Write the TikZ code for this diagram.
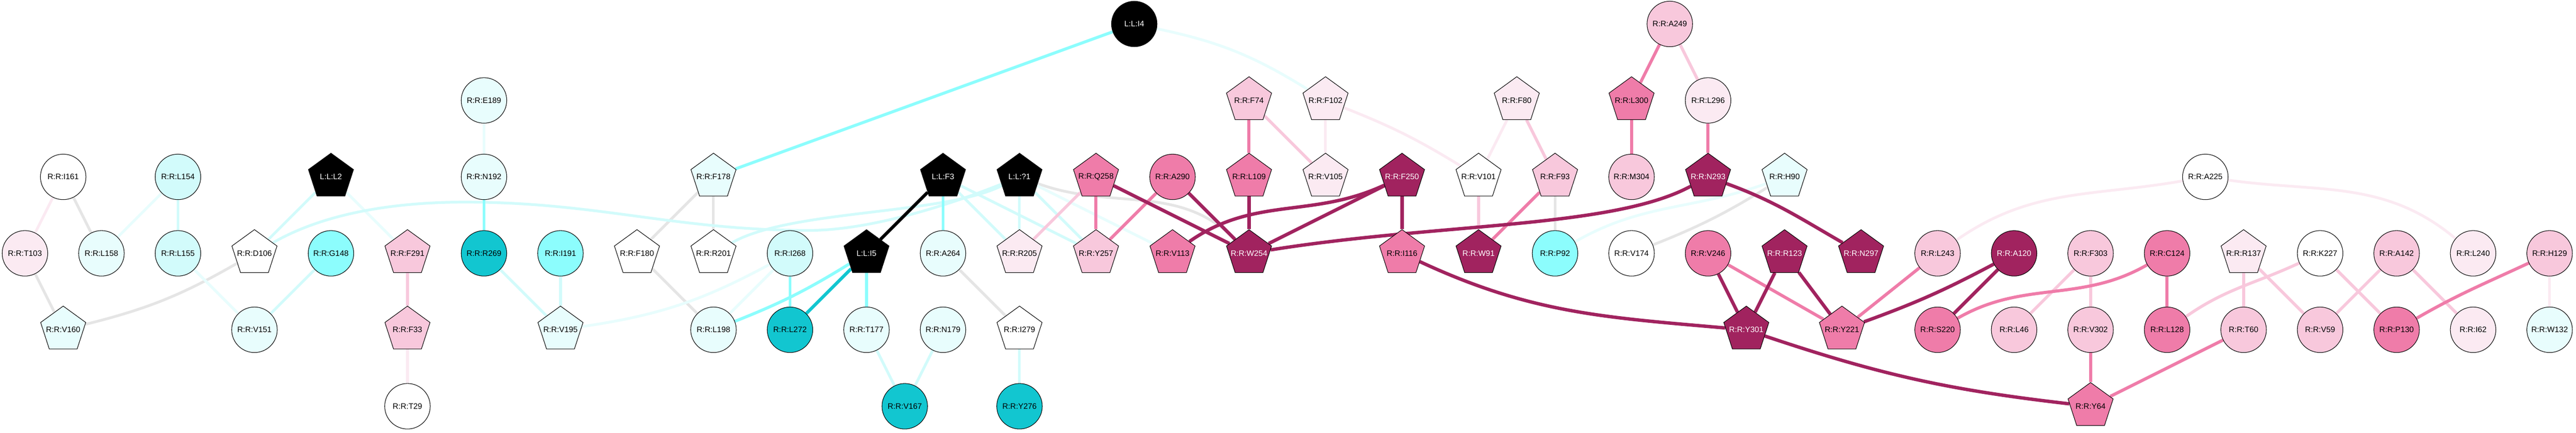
\documentclass[tikz,border=0pt]{standalone}
\usepackage{fontspec}
\setmainfont{Liberation Sans}
\usetikzlibrary{shapes.geometric, backgrounds}

\definecolor{cgrey}{HTML}{E5E5E5}
\definecolor{cvlcyan}{HTML}{E8FDFD}
\definecolor{clcyan}{HTML}{D2FBFB}
\definecolor{ccyan}{HTML}{8CFDFD}
\definecolor{cdcyan}{HTML}{12C6D0}
\definecolor{cvlpink}{HTML}{FBEAF2}
\definecolor{clpink}{HTML}{F8C8DC}
\definecolor{cpink}{HTML}{EF7CA9}
\definecolor{cdmag}{HTML}{A1235F}

% label of zero width, so the pentagon keeps its own size
\newcommand{\ptxt}[1]{\makebox[0pt]{#1}}

\begin{document}
\begin{tikzpicture}[
  res/.style={circle, draw=black, line width=0.4pt, minimum size=1.19cm,
    inner sep=0pt, font=\fontsize{5.9}{7}\selectfont},
  pent/.style={regular polygon, regular polygon sides=5, draw=black,
    line width=0.4pt, minimum size=1.24cm, inner sep=0pt,
    font=\fontsize{5.9}{7}\selectfont},
  lig/.style={fill=black, text=white},
  hub/.style={fill=cdmag, text=white},
  egrey/.style={draw=cgrey, line width=2pt},
  evlcyan/.style={draw=cvlcyan, line width=2pt},
  elcyan/.style={draw=clcyan, line width=2pt},
  ecyan/.style={draw=ccyan, line width=2.2pt},
  edcyan/.style={draw=cdcyan, line width=2.4pt},
  eblack/.style={draw=black, line width=2.4pt},
  evlpink/.style={draw=cvlpink, line width=2pt},
  elpink/.style={draw=clpink, line width=2.2pt},
  epink/.style={draw=cpink, line width=2.3pt},
  edmag/.style={draw=cdmag, line width=2.5pt}]

  \useasboundingbox (-0.652,0.627) rectangle (66.69,-10.689);

  % row 0
  \node[res, lig] (i4) at (29,0) {L:L:I4};
  \node[res, fill=clpink] (a249) at (43,0) {R:R:A249};

  % row 1
  \node[res, fill=cvlcyan] (e189) at (12,-2) {R:R:E189};
  \node[pent, fill=clpink] (f74) at (32,-2) {\ptxt{R:R:F74}};
  \node[pent, fill=cvlpink] (f102) at (34,-2) {\ptxt{R:R:F102}};
  \node[pent, fill=cvlpink] (f80) at (39,-2) {\ptxt{R:R:F80}};
  \node[pent, fill=cpink] (l300) at (42,-2) {\ptxt{R:R:L300}};
  \node[res, fill=cvlpink] (l296) at (44,-2) {R:R:L296};

  % row 2
  \node[res, fill=white] (i161) at (1,-4) {R:R:I161};
  \node[res, fill=clcyan] (l154) at (4,-4) {R:R:L154};
  \node[pent, lig] (l2) at (8,-4) {\ptxt{L:L:L2}};
  \node[res, fill=cvlcyan] (n192) at (12,-4) {R:R:N192};
  \node[pent, fill=cvlcyan] (f178) at (18,-4) {\ptxt{R:R:F178}};
  \node[pent, lig] (f3) at (24,-4) {\ptxt{L:L:F3}};
  \node[pent, lig] (q1) at (26,-4) {\ptxt{L:L:?1}};
  \node[pent, fill=cpink] (q258) at (28,-4) {\ptxt{R:R:Q258}};
  \node[res, fill=cpink] (a290) at (30,-4) {R:R:A290};
  \node[pent, fill=cpink] (l109) at (32,-4) {\ptxt{R:R:L109}};
  \node[pent, fill=cvlpink] (v105) at (34,-4) {\ptxt{R:R:V105}};
  \node[pent, hub] (f250) at (36,-4) {\ptxt{R:R:F250}};
  \node[pent, fill=white] (v101) at (38,-4) {\ptxt{R:R:V101}};
  \node[pent, fill=clpink] (f93) at (40,-4) {\ptxt{R:R:F93}};
  \node[res, fill=clpink] (m304) at (42,-4) {R:R:M304};
  \node[pent, hub] (n293) at (44,-4) {\ptxt{R:R:N293}};
  \node[pent, fill=cvlcyan] (h90) at (46,-4) {\ptxt{R:R:H90}};
  \node[res, fill=white] (a225) at (57,-4) {R:R:A225};

  % row 3
  \node[res, fill=cvlpink] (t103) at (0,-6) {R:R:T103};
  \node[res, fill=cvlcyan] (l158) at (2,-6) {R:R:L158};
  \node[res, fill=clcyan] (l155) at (4,-6) {R:R:L155};
  \node[pent, fill=white] (d106) at (6,-6) {\ptxt{R:R:D106}};
  \node[res, fill=ccyan] (g148) at (8,-6) {R:R:G148};
  \node[pent, fill=clpink] (f291) at (10,-6) {\ptxt{R:R:F291}};
  \node[res, fill=cdcyan] (r269) at (12,-6) {R:R:R269};
  \node[res, fill=ccyan] (i191) at (14,-6) {R:R:I191};
  \node[pent, fill=white] (f180) at (16,-6) {\ptxt{R:R:F180}};
  \node[pent, fill=white] (r201) at (18,-6) {\ptxt{R:R:R201}};
  \node[res, fill=clcyan] (i268) at (20,-6) {R:R:I268};
  \node[pent, lig] (i5) at (22,-6) {\ptxt{L:L:I5}};
  \node[res, fill=cvlcyan] (a264) at (24,-6) {R:R:A264};
  \node[pent, fill=cvlpink] (r205) at (26,-6) {\ptxt{R:R:R205}};
  \node[pent, fill=clpink] (y257) at (28,-6) {\ptxt{R:R:Y257}};
  \node[pent, fill=cpink] (v113) at (30,-6) {\ptxt{R:R:V113}};
  \node[pent, hub] (w254) at (32,-6) {\ptxt{R:R:W254}};
  \node[pent, fill=cpink] (i116) at (36,-6) {\ptxt{R:R:I116}};
  \node[pent, hub] (w91) at (38,-6) {\ptxt{R:R:W91}};
  \node[res, fill=ccyan] (p92) at (40,-6) {R:R:P92};
  \node[res, fill=white] (v174) at (42,-6) {R:R:V174};
  \node[res, fill=cpink] (v246) at (44,-6) {R:R:V246};
  \node[pent, hub] (r123) at (46,-6) {\ptxt{R:R:R123}};
  \node[pent, hub] (n297) at (48,-6) {\ptxt{R:R:N297}};
  \node[res, fill=clpink] (l243) at (50,-6) {R:R:L243};
  \node[res, hub] (a120) at (52,-6) {R:R:A120};
  \node[res, fill=clpink] (f303) at (54,-6) {R:R:F303};
  \node[res, fill=cpink] (c124) at (56,-6) {R:R:C124};
  \node[pent, fill=cvlpink] (r137) at (58,-6) {\ptxt{R:R:R137}};
  \node[res, fill=white] (k227) at (60,-6) {R:R:K227};
  \node[res, fill=clpink] (a142) at (62,-6) {R:R:A142};
  \node[res, fill=cvlpink] (l240) at (64,-6) {R:R:L240};
  \node[res, fill=clpink] (h129) at (66,-6) {R:R:H129};

  % row 4
  \node[pent, fill=cvlcyan] (v160) at (1,-8) {\ptxt{R:R:V160}};
  \node[res, fill=cvlcyan] (v151) at (6,-8) {R:R:V151};
  \node[pent, fill=clpink] (f33) at (10,-8) {\ptxt{R:R:F33}};
  \node[pent, fill=cvlcyan] (v195) at (14,-8) {\ptxt{R:R:V195}};
  \node[res, fill=cvlcyan] (l198) at (18,-8) {R:R:L198};
  \node[res, fill=cdcyan] (l272) at (20,-8) {R:R:L272};
  \node[res, fill=cvlcyan] (t177) at (22,-8) {R:R:T177};
  \node[res, fill=cvlcyan] (n179) at (24,-8) {R:R:N179};
  \node[pent, fill=white] (i279) at (26,-8) {\ptxt{R:R:I279}};
  \node[pent, hub] (y301) at (45,-8) {\ptxt{R:R:Y301}};
  \node[pent, fill=cpink] (y221) at (47.5,-8) {\ptxt{R:R:Y221}};
  \node[res, fill=cpink] (s220) at (50,-8) {R:R:S220};
  \node[res, fill=clpink] (l46) at (52,-8) {R:R:L46};
  \node[res, fill=clpink] (v302) at (54,-8) {R:R:V302};
  \node[res, fill=cpink] (l128) at (56,-8) {R:R:L128};
  \node[res, fill=clpink] (t60) at (58,-8) {R:R:T60};
  \node[res, fill=clpink] (v59) at (60,-8) {R:R:V59};
  \node[res, fill=cpink] (p130) at (62,-8) {R:R:P130};
  \node[res, fill=cvlpink] (i62) at (64,-8) {R:R:I62};
  \node[res, fill=cvlcyan] (w132) at (66,-8) {R:R:W132};

  % row 5
  \node[res, fill=white] (t29) at (10,-10) {R:R:T29};
  \node[res, fill=cdcyan] (v167) at (23,-10) {R:R:V167};
  \node[res, fill=cdcyan] (y276) at (26,-10) {R:R:Y276};
  \node[pent, fill=cpink] (y64) at (54,-10) {\ptxt{R:R:Y64}};

  \begin{scope}[on background layer]
    \fill[white] (-0.652,0.627) rectangle (66.69,-10.689);

    % grey contacts
    \draw[egrey] (i161) -- (l158);
    \draw[egrey] (t103) -- (v160);
    \draw[egrey] (v160) to[bend right=8] (d106);
    \draw[egrey] (f178) -- (f180);
    \draw[egrey] (f178) -- (r201);
    \draw[egrey] (f180) -- (l198);
    \draw[egrey] (a264) -- (i279);
    \draw[egrey] (q1) to[out=-20,in=135] (w254);
    \draw[egrey] (f93) -- (p92);
    \draw[egrey] (v174) to[bend right=5] (h90);

    % cyan contacts
    \draw[evlcyan] (l154) -- (l158);
    \draw[evlcyan] (l155) -- (v151);
    \draw[evlcyan] (l2) -- (f291);
    \draw[evlcyan] (e189) -- (n192);
    \draw[evlcyan] (l198) -- (i268);
    \draw[evlcyan] (q1) -- (v113);
    \draw[evlcyan] (v195) to[bend right=10] (i268);
    \draw[evlcyan] (i4) to[bend left=10] (f102);
    \draw[evlcyan] (p92) to[out=30,in=200] (h90);
    \draw[elcyan] (l154) -- (l155);
    \draw[elcyan] (l2) -- (d106);
    \draw[elcyan] (g148) -- (v151);
    \draw[elcyan] (r269) -- (v195);
    \draw[elcyan] (i191) -- (v195);
    \draw[elcyan] (t177) -- (v167);
    \draw[elcyan] (n179) -- (v167);
    \draw[elcyan] (i279) -- (y276);
    \draw[elcyan] (f3) -- (r205);
    \draw[elcyan] (q1) -- (r205);
    \draw[elcyan] (f3) -- (y257);
    \draw[elcyan] (q1) -- (y257);
    \draw[elcyan] (d106) .. controls (8,-4.85) and (10,-4.66) .. (11.5,-4.66)
      .. controls (15,-4.66) and (17,-5.4) .. (20.5,-5.4)
      .. controls (22,-5.4) and (24,-4.8) .. (q1);
    \draw[elcyan] (r201) .. controls (20,-4.85) and (24,-5) .. (q1);
    \draw[ecyan] (n192) -- (r269);
    \draw[ecyan] (i268) -- (l272);
    \draw[ecyan] (f3) -- (a264);
    \draw[ecyan] (i5) -- (t177);
    \draw[ecyan] (f178) -- (i4);
    \draw[ecyan] (l198) to[bend right=5] (i5);
    \draw[edcyan] (i5) -- (l272);
    \draw[eblack] (f3) -- (i5);

    % pink contacts
    \draw[evlpink] (i161) -- (t103);
    \draw[evlpink] (f33) -- (t29);
    \draw[evlpink] (f102) -- (v105);
    \draw[evlpink] (f80) -- (v101);
    \draw[evlpink] (h129) -- (w132);
    \draw[evlpink] (f102) to[bend left=5] (v101);
    \draw[evlpink] (l243) to[out=35,in=190] (a225);
    \draw[evlpink] (a225) to[out=-8,in=140] (l240);
    \draw[elpink] (f291) -- (f33);
    \draw[elpink] (q258) -- (r205);
    \draw[elpink] (f74) -- (v105);
    \draw[elpink] (a249) -- (l296);
    \draw[elpink] (f80) -- (f93);
    \draw[elpink] (v101) -- (w91);
    \draw[elpink] (f303) -- (l46);
    \draw[elpink] (f303) -- (v302);
    \draw[elpink] (r137) -- (t60);
    \draw[elpink] (r137) -- (v59);
    \draw[elpink] (k227) -- (p130);
    \draw[elpink] (a142) -- (v59);
    \draw[elpink] (a142) -- (i62);
    \draw[elpink] (k227) to[out=205,in=35] (l128);
    \draw[epink] (q258) -- (y257);
    \draw[epink] (a290) -- (y257);
    \draw[epink] (f74) -- (l109);
    \draw[epink] (f93) -- (w91);
    \draw[epink] (l300) -- (a249);
    \draw[epink] (l300) -- (m304);
    \draw[epink] (l296) -- (n293);
    \draw[epink] (v246) -- (y221);
    \draw[epink] (l243) -- (y221);
    \draw[epink] (v302) -- (y64);
    \draw[epink] (c124) -- (l128);
    \draw[epink] (y64) -- (t60);
    \draw[epink] (s220) to[out=30,in=210] (c124);
    \draw[epink] (h129) to[out=205,in=30] (p130);

    % strong contacts
    \draw[edmag] (q258) -- (w254);
    \draw[edmag] (a290) -- (w254);
    \draw[edmag] (l109) -- (w254);
    \draw[edmag] (w254) -- (f250);
    \draw[edmag] (f250) -- (i116);
    \draw[edmag] (v246) -- (y301);
    \draw[edmag] (r123) -- (y301);
    \draw[edmag] (r123) -- (y221);
    \draw[edmag] (a120) -- (s220);
    \draw[edmag] (a120) to[bend left=4] (y221);
    \draw[edmag] (v113) to[out=35,in=205] (f250);
    \draw[edmag] (w254) .. controls (37,-5.2) and (41.5,-5.35) .. (n293);
    \draw[edmag] (i116) to[out=-25,in=175] (y301);
    \draw[edmag] (n293) to[out=-20,in=150] (n297);
    \draw[edmag] (y301) to[bend right=6] (y64);
  \end{scope}
\end{tikzpicture}
\end{document}
